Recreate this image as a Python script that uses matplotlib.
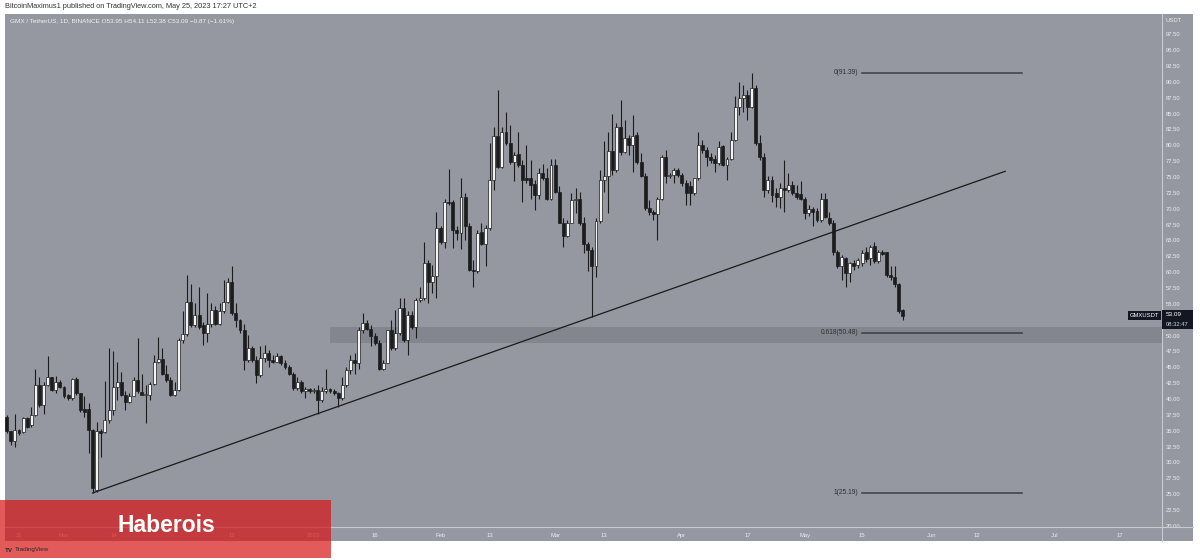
import matplotlib
matplotlib.use("Agg")
import matplotlib.pyplot as plt
from matplotlib.patches import Rectangle
import numpy as np
from datetime import date

# ---------------- data ----------------
start_date = date(2022, 10, 18)   # first daily candle

opens = [
    37.2, 34.9, 33.3, 35.1, 34.8, 37.0, 35.9, 37.5, 42.2, 39.1,
    42.2, 43.4, 41.4, 42.7, 41.9, 40.6, 40.1, 43.1, 40.9, 38.5,
    38.4, 35.1, 25.7, 34.9, 34.8, 36.7, 38.3, 41.9, 42.6, 40.6,
    39.6, 40.5, 43.0, 41.1, 40.7, 40.7, 42.4, 45.9, 46.3, 44.0,
    43.0, 40.6, 41.4, 49.3, 50.2, 55.3, 51.7, 53.2, 51.7, 50.4,
    51.8, 54.0, 51.9, 53.8, 55.3, 58.4, 53.5, 52.5, 50.8, 46.1,
    48.0, 46.1, 43.8, 46.4, 47.2, 46.1, 45.9, 46.7, 45.6, 45.1,
    44.0, 41.7, 42.7, 41.2, 41.5, 41.3, 41.4, 39.8, 41.3, 41.5,
    41.3, 40.9, 40.1, 42.2, 44.6, 46.1, 45.7, 50.9, 52.0, 51.1,
    49.9, 48.8, 44.8, 45.7, 50.8, 48.0, 50.4, 54.3, 49.3, 53.2,
    51.4, 55.6, 55.9, 61.5, 58.5, 59.4, 66.9, 64.8, 71.1, 71.1,
    66.6, 66.1, 71.9, 67.2, 60.4, 60.1, 66.4, 64.5, 66.9, 74.6,
    81.4, 76.6, 82.1, 80.4, 77.4, 78.6, 76.9, 74.9, 74.9, 73.9,
    72.2, 75.6, 74.8, 71.6, 76.9, 72.7, 67.8, 65.7, 67.8, 71.4,
    71.6, 67.7, 64.4, 63.5, 61.0, 68.0, 74.6, 75.2, 79.1, 76.1,
    82.9, 79.0, 81.1, 80.0, 81.6, 77.4, 75.2, 70.1, 69.5, 69.1,
    71.6, 78.1, 75.2, 75.3, 76.1, 75.3, 74.1, 73.6, 72.4, 74.8,
    80.0, 79.3, 78.2, 77.9, 77.2, 79.9, 76.9, 77.8, 80.8, 86.1,
    87.4, 87.9, 86.1, 89.0, 80.3, 78.2, 72.9, 74.5, 72.4, 71.8,
    73.2, 72.9, 73.7, 72.4, 72.3, 71.6, 69.3, 69.9, 69.7, 68.2,
    71.6, 68.6, 67.8, 63.2, 60.9, 62.2, 59.8, 61.4, 61.1, 61.4,
    63.1, 62.2, 64.1, 61.7, 63.2, 63.1, 59.6, 59.3, 58.1, 53.95,
]
highs = [
    37.5, 35.0, 37.7, 35.3, 37.2, 37.1, 38.8, 44.8, 43.5, 42.7,
    46.7, 43.5, 43.6, 43.0, 42.1, 40.8, 43.3, 43.4, 41.0, 40.4,
    39.3, 35.3, 36.4, 35.2, 42.9, 48.0, 47.5, 45.9, 44.3, 41.2,
    40.9, 43.5, 49.6, 44.0, 42.2, 42.7, 46.9, 49.8, 48.0, 45.4,
    43.5, 42.7, 49.6, 53.8, 59.5, 58.2, 55.1, 57.7, 52.2, 56.7,
    55.1, 54.6, 55.1, 58.8, 59.0, 60.9, 55.1, 52.6, 51.9, 50.1,
    48.3, 46.7, 48.3, 48.5, 47.7, 47.0, 47.2, 46.9, 46.1, 45.4,
    44.2, 43.5, 43.0, 41.9, 41.7, 41.7, 42.2, 41.9, 44.8, 41.7,
    41.6, 41.1, 43.5, 45.1, 46.9, 47.2, 51.4, 53.5, 52.5, 51.7,
    50.4, 49.3, 46.1, 50.9, 52.5, 54.0, 55.9, 55.9, 53.8, 53.8,
    55.9, 57.7, 64.8, 61.9, 61.1, 69.5, 67.2, 71.6, 76.3, 71.4,
    67.2, 74.8, 72.4, 67.7, 61.9, 66.6, 67.7, 67.4, 80.3, 82.9,
    88.7, 82.9, 85.3, 83.2, 79.0, 82.1, 77.7, 80.0, 77.7, 74.5,
    76.4, 77.1, 76.4, 77.9, 77.9, 73.5, 68.5, 68.2, 72.4, 73.2,
    72.7, 68.7, 64.8, 64.0, 68.5, 76.1, 80.6, 82.1, 85.0, 83.5,
    87.1, 84.0, 81.6, 84.8, 82.1, 78.7, 75.6, 71.4, 69.8, 71.9,
    78.5, 79.2, 75.6, 76.4, 76.4, 75.6, 74.5, 74.3, 74.9, 82.1,
    80.8, 79.8, 78.7, 78.4, 80.6, 80.0, 78.2, 82.1, 87.7, 90.0,
    89.5, 88.7, 91.39, 89.5, 81.6, 78.7, 75.1, 75.2, 73.2, 74.0,
    77.7, 75.6, 74.3, 73.7, 74.3, 71.9, 70.6, 70.3, 70.1, 72.4,
    72.4, 69.5, 68.2, 63.5, 62.7, 62.4, 61.6, 61.9, 62.2, 63.5,
    64.0, 64.3, 64.8, 63.5, 63.5, 63.2, 60.9, 61.0, 58.3, 54.11,
]
lows = [
    34.6, 32.7, 32.5, 34.3, 34.6, 35.4, 35.6, 37.3, 38.8, 37.7,
    42.0, 41.2, 40.9, 41.7, 40.1, 39.9, 39.9, 40.7, 37.9, 37.2,
    31.5, 25.19, 25.4, 30.9, 34.6, 36.2, 37.5, 39.8, 40.4, 38.3,
    39.4, 40.4, 40.9, 40.6, 36.2, 39.8, 42.2, 45.6, 43.8, 42.7,
    40.4, 40.4, 41.3, 48.9, 49.9, 51.4, 51.4, 51.1, 48.5, 49.0,
    51.4, 51.7, 51.7, 53.5, 55.1, 53.3, 51.4, 50.4, 44.6, 45.9,
    45.9, 42.5, 43.5, 45.9, 45.1, 45.6, 45.9, 45.4, 44.8, 43.8,
    41.4, 41.4, 40.9, 40.1, 40.9, 41.0, 37.7, 39.6, 40.9, 40.9,
    40.6, 38.8, 39.8, 41.9, 44.0, 44.0, 44.8, 50.4, 50.9, 48.3,
    48.5, 44.6, 44.6, 45.6, 47.7, 47.7, 50.1, 49.0, 46.9, 51.1,
    49.6, 55.3, 55.6, 55.1, 56.7, 55.9, 64.5, 63.8, 70.6, 63.8,
    65.1, 63.7, 65.1, 60.1, 57.7, 59.9, 64.3, 60.9, 66.6, 72.9,
    76.4, 76.4, 80.0, 77.1, 74.3, 76.6, 71.1, 74.0, 71.6, 69.8,
    71.6, 74.5, 71.4, 71.4, 72.4, 67.7, 64.0, 65.6, 67.7, 69.3,
    67.4, 63.0, 60.1, 52.92, 59.3, 67.7, 72.7, 69.3, 75.3, 75.8,
    78.5, 78.7, 78.5, 75.8, 77.1, 75.0, 69.8, 69.0, 68.2, 65.1,
    71.4, 74.0, 74.8, 74.0, 75.0, 73.5, 70.6, 70.6, 72.2, 74.5,
    78.7, 76.7, 77.2, 75.8, 76.9, 76.7, 74.5, 77.6, 80.6, 84.8,
    85.3, 84.0, 85.8, 80.0, 77.7, 71.9, 72.4, 71.1, 70.3, 70.1,
    69.5, 72.7, 72.2, 71.5, 71.4, 68.3, 68.8, 67.3, 67.9, 67.9,
    68.5, 67.4, 62.7, 60.6, 58.8, 57.7, 58.5, 60.3, 60.6, 60.9,
    61.6, 61.1, 61.4, 61.4, 62.7, 59.3, 58.8, 57.7, 53.5, 52.38,
]
closes = [
    34.9, 33.3, 35.1, 34.6, 37.0, 35.6, 37.5, 42.2, 39.1, 42.2,
    43.4, 41.4, 42.6, 41.9, 40.4, 40.1, 43.1, 40.9, 38.2, 38.0,
    35.1, 25.9, 34.9, 34.6, 36.7, 38.3, 41.9, 42.6, 40.6, 39.6,
    40.5, 43.0, 41.2, 40.7, 40.8, 42.4, 45.9, 46.3, 44.0, 43.0,
    40.6, 41.4, 49.3, 50.2, 55.3, 51.7, 53.2, 51.4, 50.4, 51.8,
    54.0, 51.9, 53.8, 55.3, 58.4, 53.5, 52.5, 50.8, 46.1, 48.0,
    46.1, 43.8, 46.4, 47.2, 46.1, 45.9, 46.7, 45.6, 45.1, 44.0,
    41.7, 42.7, 41.2, 41.5, 41.3, 41.4, 39.8, 41.3, 41.5, 41.2,
    40.9, 40.1, 42.2, 44.6, 46.1, 45.7, 50.9, 52.0, 51.1, 49.9,
    48.8, 44.8, 45.7, 50.8, 48.0, 50.4, 54.3, 49.3, 53.2, 51.4,
    55.6, 55.9, 61.5, 58.5, 59.4, 66.9, 64.8, 71.1, 70.9, 66.6,
    66.1, 71.9, 67.2, 60.3, 60.1, 66.2, 64.5, 66.9, 74.6, 81.4,
    76.6, 82.1, 80.4, 77.4, 78.5, 76.9, 74.5, 74.5, 73.7, 72.2,
    75.6, 74.8, 71.6, 76.9, 72.7, 67.8, 65.7, 67.8, 71.4, 71.6,
    67.7, 64.4, 63.5, 61.0, 68.0, 74.6, 75.2, 79.1, 76.1, 82.9,
    79.0, 81.1, 80.0, 81.5, 77.4, 75.2, 70.1, 69.4, 69.1, 71.6,
    78.1, 75.2, 75.3, 76.1, 75.3, 74.1, 72.4, 72.4, 74.8, 80.0,
    79.3, 78.2, 77.7, 77.2, 79.8, 76.9, 77.8, 80.8, 86.1, 87.4,
    87.9, 86.1, 89.0, 80.3, 78.2, 72.9, 74.5, 72.2, 71.8, 73.2,
    72.9, 73.7, 72.4, 71.9, 71.6, 69.3, 69.9, 69.5, 68.2, 71.6,
    68.7, 67.8, 63.2, 60.9, 62.4, 59.8, 61.4, 60.9, 61.9, 63.0,
    62.0, 64.0, 61.7, 63.1, 62.9, 59.6, 59.2, 58.1, 53.9, 53.09,
]

# time-scale labels visible in the reference ("Dec" sits fully hidden under the banner text)
tick_dates = [date(2022, 10, 21), date(2022, 11, 1), date(2022, 11, 14),
              date(2022, 12, 12), date(2023, 1, 1), date(2023, 1, 16), date(2023, 2, 1),
              date(2023, 2, 13), date(2023, 3, 1), date(2023, 3, 13), date(2023, 4, 1),
              date(2023, 4, 17), date(2023, 5, 1), date(2023, 5, 15), date(2023, 6, 1),
              date(2023, 6, 12), date(2023, 7, 1), date(2023, 7, 17)]
tick_labels = ["21", "Nov", "14", "12", "2023", "16", "Feb", "13", "Mar",
               "13", "Apr", "17", "May", "15", "Jun", "12", "Jul", "17"]

price_ticks = [20 + 2.5 * i for i in range(32)]

trend_start = (date(2022, 11, 8), 25.19)
trend_end = (date(2023, 6, 19), 75.9)

fib_levels = ["0", "0.618", "1"]
fib_values = [91.39, 50.48, 25.19]
fib_start = date(2023, 5, 15)
fib_end = date(2023, 6, 23)

zone_start = date(2023, 1, 5)
zone_low, zone_high = 48.83, 51.35

last_price = 53.09
# --------------------------------------

def idx(d):
    return (d - start_date).days

W, H = 1200, 560
BG = "#9598a1"
DARK = "#1c1c1e"
FONT = ["Liberation Sans", "DejaVu Sans"]
plt.rcParams["font.family"] = FONT

fig = plt.figure(figsize=(12, 5.6), dpi=100, facecolor="white")

def fx(x):
    return x / W

def fy(y):
    return 1 - y / H

# panel background (chart + axes scales)
fig.add_artist(Rectangle((fx(5), fy(541)), fx(1193) - fx(5), fy(14) - fy(541),
                         transform=fig.transFigure, facecolor=BG, edgecolor="none", zorder=-5))

ax = fig.add_axes([fx(5), fy(527), fx(1162) - fx(5), fy(14) - fy(527)])
ax.set_facecolor(BG)
for s in ax.spines.values():
    s.set_visible(False)

n = len(closes)
xs = np.arange(n)
o = np.array(opens); c = np.array(closes); h = np.array(highs); l = np.array(lows)
up = c >= o

ax.vlines(xs, l, h, color=DARK, lw=0.8, zorder=3)
body_bottom = np.minimum(o, c)
body_h = np.maximum(np.abs(c - o), 0.12)
ax.bar(xs[up], body_h[up], bottom=body_bottom[up], width=0.72, color="#f4f4f4",
       edgecolor=DARK, linewidth=0.5, zorder=4)
ax.bar(xs[~up], body_h[~up], bottom=body_bottom[~up], width=0.72, color=DARK,
       edgecolor=DARK, linewidth=0.5, zorder=4)

# support zone
x_right = 282.3
ax.add_patch(Rectangle((idx(zone_start), zone_low), x_right - idx(zone_start), zone_high - zone_low,
                       facecolor="#80838b", edgecolor="none", alpha=0.85, zorder=1))

# trendline
ax.plot([idx(trend_start[0]), idx(trend_end[0])], [trend_start[1], trend_end[1]],
        color="#1a1a1a", lw=0.9, zorder=5)

# fib levels
for lev, val in zip(fib_levels, fib_values):
    ax.plot([idx(fib_start), idx(fib_end)], [val, val], color="#3c3e44", lw=1.1, zorder=5)
    ax.text(idx(fib_start) - 0.9, val, f"{lev}({val:.2f})", ha="right", va="center",
            fontsize=4.8, color="#2e3036", zorder=6)

ax.set_xlim(-0.42, x_right)
ax.set_ylim(19.82, 100.69)

ax.yaxis.tick_right()
ax.set_yticks(price_ticks)
ax.set_yticklabels([f"{p:.2f}" for p in price_ticks])
ax.tick_params(axis="y", length=0, pad=3, labelsize=4.2, labelcolor="#eceef2")
ax.set_xticks([idx(d) for d in tick_dates])
ax.set_xticklabels(tick_labels)
ax.tick_params(axis="x", length=0, pad=4, labelsize=4.2, labelcolor="#eceef2")
# the "14" label sits just left of the banner text in the reference
for t in ax.get_xticklabels():
    if t.get_text() == "14":
        t.set_horizontalalignment("right")

# scale separator lines
fig.add_artist(plt.Line2D([fx(1162), fx(1162)], [fy(541), fy(14)], transform=fig.transFigure,
                          color="#c9cbd1", lw=0.8, zorder=2))
fig.add_artist(plt.Line2D([fx(5), fx(1193)], [fy(527), fy(527)], transform=fig.transFigure,
                          color="#c9cbd1", lw=0.8, zorder=2))

# texts
fig.text(fx(5), fy(7), "BitcoinMaximus1 published on TradingView.com, May 25, 2023 17:27 UTC+2",
         fontsize=5.3, color="#333333", ha="left", va="center")
fig.text(fx(10), fy(22), "GMX / TetherUS, 1D, BINANCE O53.95 H54.11 L52.38 C53.09 \u22120.87 (\u22121.61%)",
         fontsize=4.6, color="#f0f1f4", ha="left", va="center")
fig.text(fx(1166), fy(20), "USDT", fontsize=4.2, color="#eceef2", ha="left", va="center")

# last price labels
fig.add_artist(Rectangle((fx(1128), fy(320)), fx(1161) - fx(1128), fy(311) - fy(320),
                         transform=fig.transFigure, facecolor="#131722", edgecolor="none", zorder=6))
fig.text(fx(1144.5), fy(315.5), "GMXUSDT", fontsize=4.2, color="white", ha="center", va="center", zorder=7)
fig.add_artist(Rectangle((fx(1162), fy(329)), fx(1193) - fx(1162), fy(310) - fy(329),
                         transform=fig.transFigure, facecolor="#131722", edgecolor="none", zorder=6))
fig.text(fx(1166), fy(315), f"{last_price:.2f}", fontsize=4.6, color="white", ha="left", va="center", zorder=7)
fig.text(fx(1166), fy(324), "08:32:47", fontsize=4.2, color="#d0d3da", ha="left", va="center", zorder=7)

# red overlay box
fig.add_artist(Rectangle((fx(0), fy(558)), fx(331), fy(500) - fy(558), transform=fig.transFigure,
                         facecolor="#d81414", edgecolor="none", alpha=0.7, zorder=8))
fig.text(fx(166.5), fy(525), "Haberois", fontsize=16.5, fontweight="bold", color="white",
         family="Liberation Sans", ha="center", va="center", zorder=9)
fig.text(fx(5), fy(550), "TV", fontsize=4.5, fontweight="bold", color="#2a2a2a",
         ha="left", va="center", zorder=9)
fig.text(fx(15), fy(550), "TradingView", fontsize=4.5, color="#2a2a2a",
         ha="left", va="center", zorder=9)

assert len(opens) == len(highs) == len(lows) == len(closes) == 220

fig.savefig("out.png", dpi=100, facecolor="white")
